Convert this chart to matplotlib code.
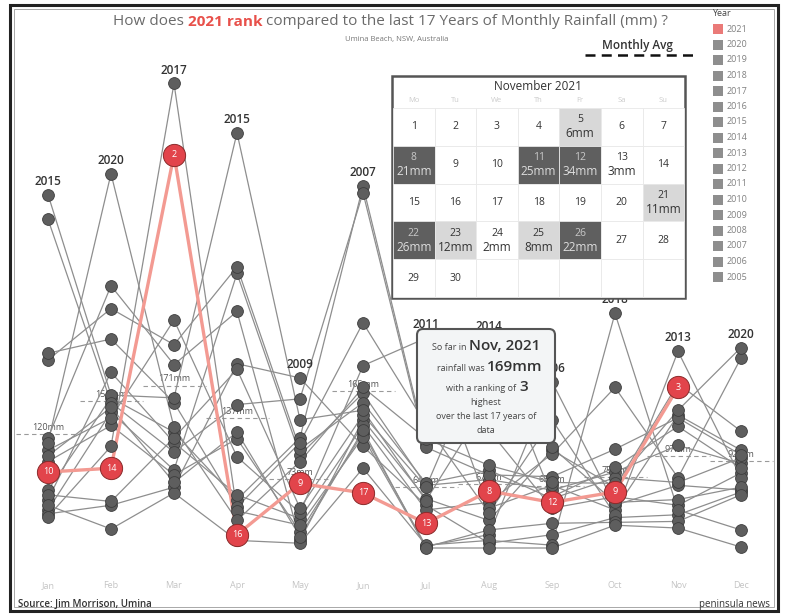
import numpy as np
import matplotlib
matplotlib.use('Agg')
import matplotlib.pyplot as plt
from matplotlib import transforms
from matplotlib.patches import Rectangle, FancyBboxPatch

plt.rcParams['font.family'] = ['Open Sans', 'DejaVu Sans']

months = ['Jan', 'Feb', 'Mar', 'Apr', 'May', 'Jun',
          'Jul', 'Aug', 'Sep', 'Oct', 'Nov', 'Dec']
years = list(range(2005, 2022))

# monthly rainfall (mm), highest to lowest, and the year each value belongs to
month_mm = [
    [372, 346, 205, 198, 116, 111, 103, 97, 91, 80, 61, 56, 51, 45, 40, 36, 33],
    [394, 276, 252, 220, 185, 161, 158, 153, 148, 143, 137, 129, 107, 84, 49, 45, 20],
    [489, 414, 240, 214, 193, 158, 153, 127, 122, 116, 111, 101, 82, 77, 69, 64, 58],
    [437, 296, 289, 249, 194, 188, 151, 122, 115, 96, 56, 51, 43, 39, 29, 14, 8],
    [179, 157, 135, 116, 111, 104, 98, 91, 68, 42, 37, 31, 24, 17, 12, 8, 5],
    [381, 374, 237, 192, 169, 163, 153, 145, 140, 135, 129, 124, 121, 117, 107, 84, 58],
    [221, 130, 115, 110, 106, 68, 66, 64, 52, 50, 45, 40, 26, 3, 2, 1, 0],
    [219, 156, 124, 87, 82, 77, 72, 60, 48, 42, 37, 29, 19, 14, 8, 5, 0],
    [175, 135, 106, 103, 99, 75, 69, 66, 61, 54, 52, 48, 42, 26, 14, 3, 0],
    [247, 169, 104, 85, 80, 74, 68, 64, 59, 54, 48, 45, 40, 35, 32, 27, 24],
    [207, 173, 169, 145, 140, 137, 128, 108, 74, 69, 66, 51, 45, 40, 35, 28, 21],
    [211, 200, 123, 103, 98, 95, 89, 84, 79, 74, 64, 61, 59, 56, 19, 1],
]
month_years = [
    [2015, 2016, 2013, 2012, 2008, 2020, 2011, 2019, 2006, 2021, 2007, 2014, 2010, 2018, 2005, 2009, 2017],
    [2020, 2008, 2012, 2013, 2010, 2015, 2007, 2016, 2019, 2005, 2011, 2006, 2017, 2021, 2014, 2009, 2018],
    [2017, 2021, 2011, 2012, 2008, 2015, 2013, 2020, 2007, 2014, 2010, 2016, 2005, 2006, 2019, 2009, 2018],
    [2015, 2012, 2005, 2008, 2009, 2014, 2016, 2019, 2006, 2011, 2010, 2007, 2013, 2017, 2020, 2021, 2018],
    [2009, 2016, 2015, 2007, 2013, 2012, 2005, 2020, 2021, 2014, 2011, 2010, 2017, 2006, 2019, 2008, 2018],
    [2007, 2016, 2013, 2011, 2020, 2005, 2012, 2015, 2014, 2008, 2010, 2019, 2006, 2017, 2009, 2018, 2021],
    [2011, 2013, 2020, 2007, 2016, 2012, 2005, 2014, 2008, 2015, 2009, 2010, 2021, 2018, 2006, 2017, 2019],
    [2014, 2015, 2007, 2020, 2012, 2016, 2005, 2021, 2010, 2011, 2013, 2008, 2017, 2006, 2018, 2009, 2019],
    [2006, 2013, 2015, 2008, 2010, 2016, 2020, 2011, 2005, 2014, 2012, 2021, 2007, 2017, 2009, 2018, 2019],
    [2018, 2010, 2016, 2014, 2005, 2012, 2020, 2008, 2021, 2007, 2015, 2006, 2011, 2013, 2009, 2017, 2019],
    [2013, 2008, 2021, 2020, 2011, 2016, 2014, 2005, 2010, 2012, 2006, 2015, 2007, 2018, 2009, 2017, 2019],
    [2020, 2010, 2008, 2011, 2016, 2012, 2005, 2014, 2007, 2013, 2015, 2006, 2009, 2017, 2018, 2019],
]
avg_mm = [120, 155, 171, 137, 73, 165, 64, 67, 65, 75, 97, 92]

# November 2021 daily rain (mm)
nov_days = [5, 8, 11, 12, 13, 21, 22, 23, 24, 25, 26]
nov_rain = [6, 21, 25, 34, 3, 11, 26, 12, 2, 8, 22]
nov_total, nov_rank = 169, 3

# year -> 12 monthly values
rain = {y: [np.nan] * 12 for y in years}
for m in range(12):
    for v, y in zip(month_mm[m], month_years[m]):
        rain[y][m] = v

W, H = 796, 614
fig = plt.figure(figsize=(W / 100, H / 100), dpi=100)
fig.patch.set_facecolor('white')

ax = fig.add_axes([0, 0, 1, 1])
ax.axis('off')
ax.set_xlim(-48 / 63, 748 / 63)
ax.set_ylim(-66 / 0.95, 548 / 0.95)

# overlay in pixel units for the decorations
ov = fig.add_axes([0, 0, 1, 1], zorder=5)
ov.set_xlim(0, W)
ov.set_ylim(H, 0)
ov.axis('off')
ov.patch.set_alpha(0)

x = np.arange(12)
for y in years:
    if y == 2021:
        continue
    ax.plot(x, rain[y], color='#8e8e8e', lw=0.9, zorder=2)
    ax.plot(x, rain[y], 'o', ms=8.5, mfc='#5e5e5e', mec='#3d3d3d', mew=0.6, zorder=4)

r21 = rain[2021]
ax.plot(x, r21, color='#f39a92', lw=2.4, zorder=3)
for m in range(11):
    v = r21[m]
    rank = 1 + sum(1 for w in month_mm[m] if w > v)
    ax.plot(m, v, 'o', ms=16, mfc='#e2444b', mec='#8a2a2a', mew=0.7, zorder=6)
    ax.text(m, v, str(rank), color='white', fontsize=6.5, ha='center', va='center', zorder=7)

# year label above the highest value of each month
for m in range(12):
    ax.annotate(str(month_years[m][0]), (m, month_mm[m][0]), xytext=(0, 5),
                textcoords='offset points', ha='center', va='bottom',
                fontsize=8.5, color='#333333', weight='semibold', zorder=5)

# monthly averages
for m in range(12):
    ax.hlines(avg_mm[m], m - 0.5, m + 0.5, colors='#9a9a9a', lw=0.8,
              linestyles=(0, (4, 3)), zorder=1)
    ax.annotate(f'{avg_mm[m]}mm', (m, avg_mm[m]), xytext=(0, 1.5),
                textcoords='offset points', ha='center', va='bottom',
                fontsize=6.5, color='#555555', zorder=1)

# month labels along the bottom
trans = transforms.blended_transform_factory(ax.transData, ov.transData)
for m, name in enumerate(months):
    ax.text(m, 586, name, transform=trans, ha='center', va='center',
            fontsize=6.5, color='#c4c4c4')

# title
t1 = ov.text(113, 29, 'How does ', fontsize=11, color='#6a6a6a', va='bottom')
t2 = ov.annotate('2021 rank', xy=(1, 0), xycoords=t1, va='bottom',
                 fontsize=11, color='#e8504a', weight='bold')
ov.annotate(' compared to the last 17 Years of Monthly Rainfall (mm) ?', xy=(1, 0),
            xycoords=t2, va='bottom', fontsize=11, color='#6a6a6a')
ov.text(397, 39, 'Umina Beach, NSW, Australia', fontsize=5.5, color='#777777',
        ha='center', va='center')

# monthly avg key
ov.text(637, 45, 'Monthly Avg', fontsize=8.5, color='#333333', weight='semibold',
        ha='center', va='center')
ov.plot([585, 697], [55, 55], color='#111111', lw=1.8, ls=(0, (4, 2.5)))

# legend
ov.text(712, 13, 'Year', fontsize=6.5, color='#444444', va='center')
for k, y in enumerate(years[::-1]):
    yy = 29 + k * 15.5
    ov.add_patch(Rectangle((713, yy - 5), 10, 10,
                           color='#ea7a78' if y == 2021 else '#8e8e8e', lw=0))
    ov.text(727, yy, str(y), fontsize=6.5, color='#808080', va='center')

# November calendar
ov.add_patch(Rectangle((392, 76), 293, 222, fc='white', ec='#555555', lw=1.8, zorder=1))
ov.text(538, 86, 'November 2021', fontsize=8.5, color='#333333', ha='center',
        va='center', zorder=3)
cx0, cy0, cw, ch = 393, 108, 41.6, 37.8
for c, dn in enumerate(['Mo', 'Tu', 'We', 'Th', 'Fr', 'Sa', 'Su']):
    ov.text(cx0 + (c + 0.5) * cw, 100, dn, fontsize=5.5, color='#cccccc',
            ha='center', va='center', zorder=3)
rain_by_day = dict(zip(nov_days, nov_rain))
for cell in range(35):
    r, c = divmod(cell, 7)
    x0, y0 = cx0 + c * cw, cy0 + r * ch
    d = cell + 1
    mm = rain_by_day.get(d)
    if mm is None or d > 30:
        fc = 'white'
    elif mm >= 20:
        fc = '#5f5f5f'
    elif mm >= 5:
        fc = '#d8d8d8'
    else:
        fc = 'white'
    ov.add_patch(Rectangle((x0, y0), cw, ch, fc=fc, ec='#e8e8e8', lw=0.6, zorder=2))
    if d > 30:
        continue
    xc, yc = x0 + cw / 2, y0 + ch / 2
    dark = fc == '#5f5f5f'
    if mm is None:
        ov.text(xc, yc, str(d), fontsize=7.5, color='#333333', ha='center',
                va='center', zorder=3)
    else:
        ov.text(xc, yc - 7, str(d), fontsize=7.5,
                color='#c8c8c8' if dark else '#333333', ha='center', va='center', zorder=3)
        ov.text(xc, yc + 7, f'{mm}mm', fontsize=8.5,
                color='#dddddd' if dark else '#333333', ha='center', va='center', zorder=3)

# tooltip
ov.add_patch(FancyBboxPatch((417, 329), 138, 114, boxstyle='round,pad=0,rounding_size=6',
                            fc='#f3f5f6', ec='#555555', lw=1.5, zorder=1))
tip = [(469, 350, 'So far in ', 'Nov, 2021'),
       (487, 371, 'rainfall was ', f'{nov_total}mm'),
       (519, 391, 'with a ranking of ', str(nov_rank))]
for xs, yb, small, big in tip:
    ov.text(xs, yb, small, fontsize=6.5, color='#444444', ha='right', va='baseline', zorder=3)
    ov.text(xs, yb, big, fontsize=11, color='#333333', weight='semibold',
            ha='left', va='baseline', zorder=3)
for yb, line in [(405, 'highest'), (419, 'over the last 17 years of'), (433, 'data')]:
    ov.text(486, yb, line, fontsize=6.5, color='#444444', ha='center', va='baseline', zorder=3)

# footer
ov.text(18, 604, 'Source: Jim Morrison, Umina', fontsize=7, color='#333333',
        weight='semibold', va='center')
ov.text(770, 604, 'peninsula news', fontsize=7, color='#333333', ha='right', va='center')

# frame
ov.add_patch(Rectangle((10, 5), 768, 606, fill=False, ec='#222222', lw=2.2))
ov.add_patch(Rectangle((14, 9), 760, 598, fill=False, ec='#9a9a9a', lw=0.6))

fig.savefig('out.png', dpi=100, facecolor='white')
